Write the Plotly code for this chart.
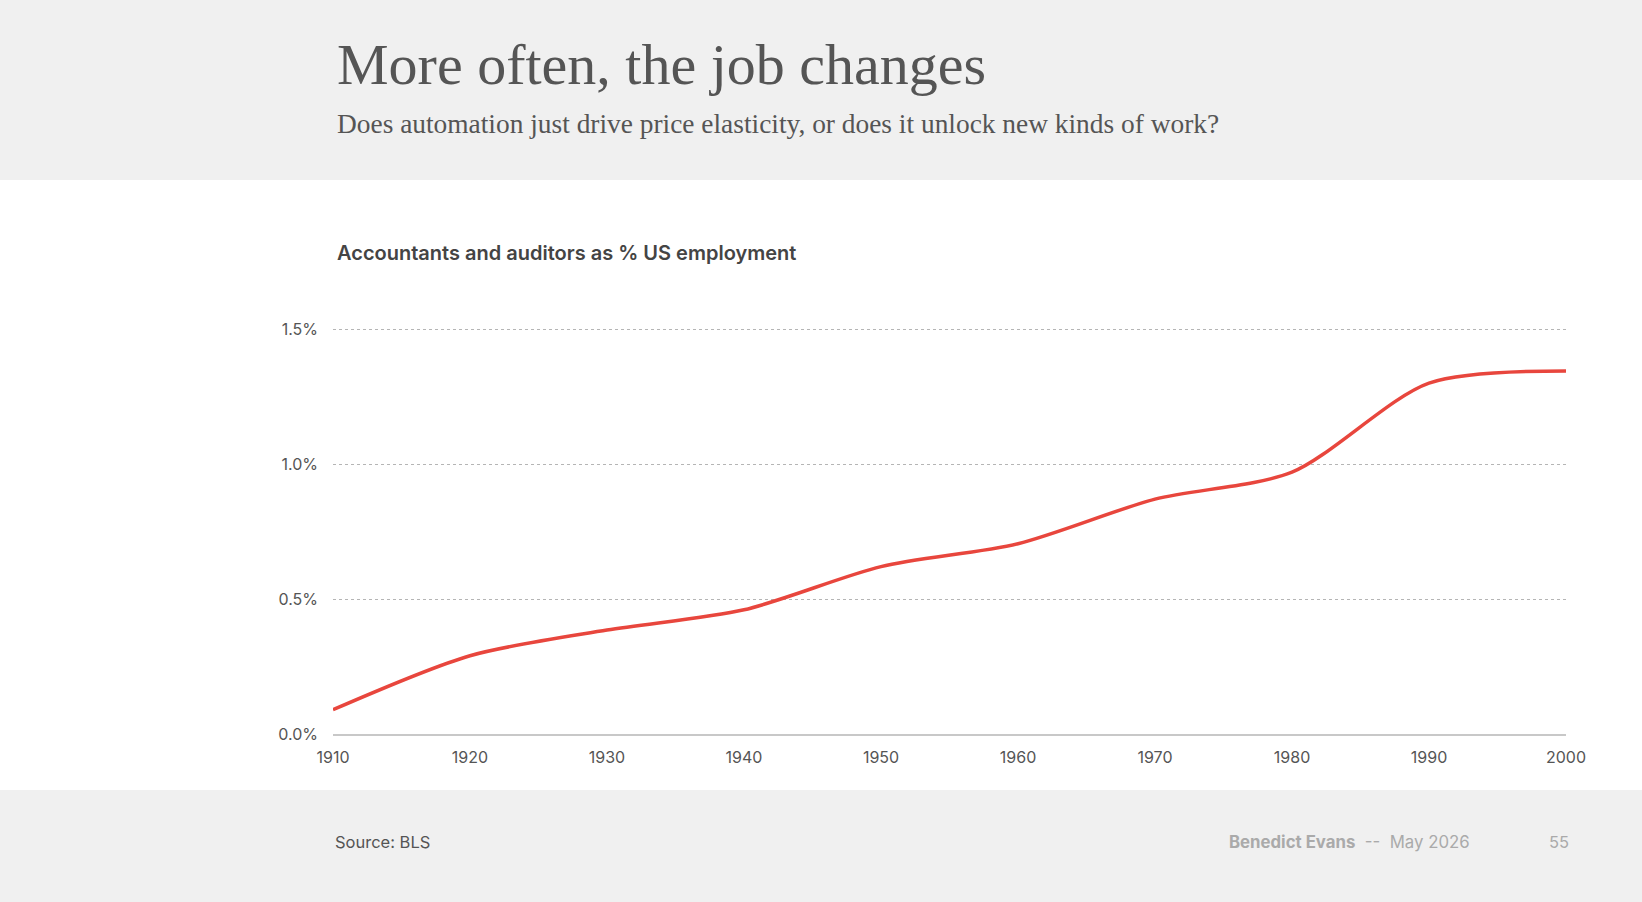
import plotly.graph_objects as go

# decade readings of accountants and auditors as % of US employment
years = [1910, 1920, 1930, 1940, 1950, 1960, 1970, 1980, 1990, 2000]
share_pct = [0.09, 0.29, 0.385, 0.46, 0.62, 0.705, 0.87, 0.97, 1.30, 1.345]

y_ticks = [0.0, 0.5, 1.0, 1.5]
y_tick_labels = ['0.0%', '0.5%', '1.0%', '1.5%']

W, H = 1642, 902
L, R, T, B = 333, 76, 321, 168
plot_w = W - L - R
plot_h = H - T - B


def px_x(px):
    return (px - L) / plot_w


def px_y(py):
    return (H - B - py) / plot_h


fig = go.Figure()
fig.add_trace(go.Scatter(x=years, y=share_pct, mode='lines',
                         line=dict(color='#E8463D', width=3.5, shape='spline', smoothing=0.8),
                         hoverinfo='x+y', showlegend=False))

# white middle band over grey page
fig.add_shape(type='rect', xref='paper', yref='paper', layer='below',
              x0=px_x(-5), x1=px_x(W + 5), y0=px_y(790), y1=px_y(180),
              fillcolor='white', line=dict(width=0))

serif = 'Liberation Serif'
sans = 'Inter'

notes = [
    dict(text='More often, the job changes', x=335, y=64, size=58, color='#555555', family=serif, anchor='left', weight=400),
    dict(text='Does automation just drive price elasticity, or does it unlock new kinds of work?',
         x=335, y=124, size=27.4, color='#555555', family=serif, anchor='left', weight=400),
    dict(text='Accountants and auditors as % US employment', x=335, y=253, size=20, color='#444444', family=sans, anchor='left', weight=600),
    dict(text='Source: BLS', x=333, y=842, size=16.5, color='#555555', family=sans, anchor='left', weight=400),
    dict(text='<b>Benedict Evans</b>  <span style="color:#aaaaaa">--</span>  May 2026', x=1472, y=842, size=16.8,
         color='#aaaaaa', family=sans, anchor='right', weight=400),
    dict(text='55', x=1571, y=842, size=16.5, color='#aaaaaa', family=sans, anchor='right', weight=400),
]
for n in notes:
    fig.add_annotation(text=n['text'], xref='paper', yref='paper', x=px_x(n['x']), y=px_y(n['y']),
                       xanchor=n['anchor'], yanchor='middle', showarrow=False,
                       font=dict(family=n['family'], size=n['size'], color=n['color'], weight=n['weight']))

fig.update_layout(
    width=W, height=H,
    margin=dict(l=L, r=R, t=T, b=B),
    paper_bgcolor='#f0f0f0',
    plot_bgcolor='white',
    font=dict(family=sans, size=16, color='#555555'),
    xaxis=dict(range=[1910, 2000], tickmode='linear', tick0=1910, dtick=10,
               showgrid=False, zeroline=False, showline=True, linecolor='#c8c8c8', linewidth=1.5,
               ticks='', ticklabelstandoff=8, fixedrange=True),
    # a little headroom so the 1.5% gridline is drawn
    yaxis=dict(range=[0, 1.53], tickvals=y_ticks, ticktext=y_tick_labels,
               showgrid=True, gridcolor='#b5b5b5', griddash='dot', gridwidth=1,
               zeroline=False, showline=False, ticks='', ticklabelstandoff=14, fixedrange=True),
)

fig.write_html('out.html', config={'displayModeBar': False},
               post_script="document.body.style.margin='0';document.body.style.overflow='hidden';")
